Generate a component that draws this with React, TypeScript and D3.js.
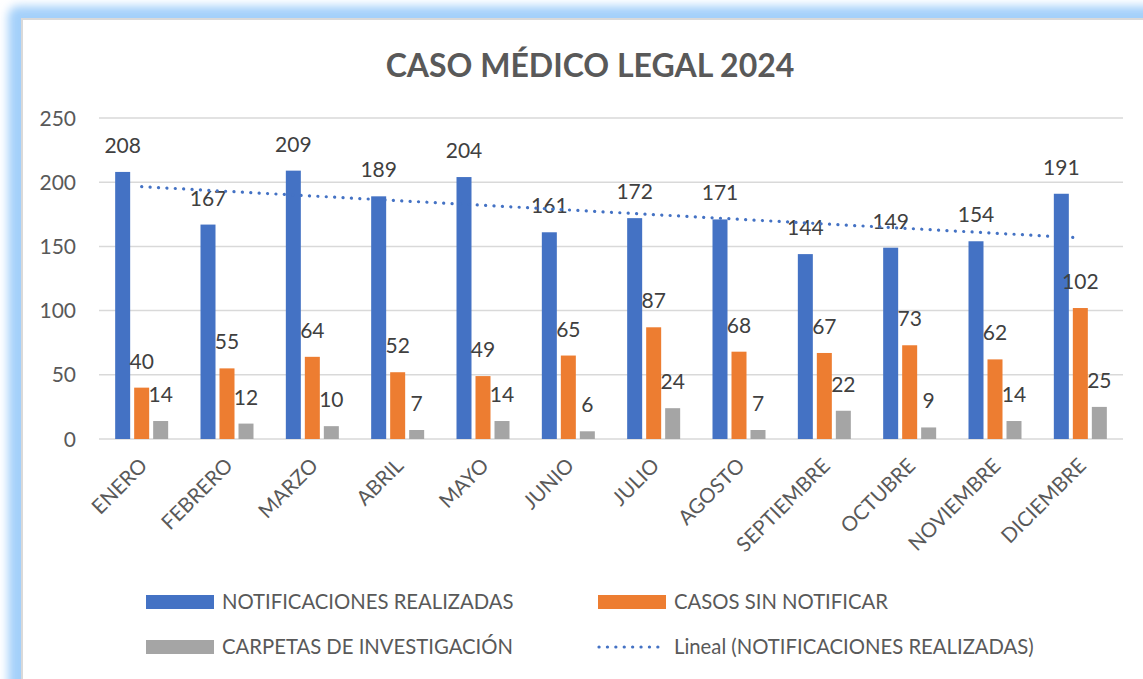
import React from "react";
import * as d3 from "d3";

const months = [
  "ENERO", "FEBRERO", "MARZO", "ABRIL", "MAYO", "JUNIO",
  "JULIO", "AGOSTO", "SEPTIEMBRE", "OCTUBRE", "NOVIEMBRE", "DICIEMBRE"
];
const notificaciones = [208, 167, 209, 189, 204, 161, 172, 171, 144, 149, 154, 191];
const sinNotificar = [40, 55, 64, 52, 49, 65, 87, 68, 67, 73, 62, 102];
const carpetas = [14, 12, 10, 7, 14, 6, 24, 7, 22, 9, 14, 25];
const yTicks = [0, 50, 100, 150, 200, 250];

const seriesNames = [
  "NOTIFICACIONES REALIZADAS",
  "CASOS SIN NOTIFICAR",
  "CARPETAS DE INVESTIGACIÓN"
];
const colors = ["#4472C4", "#ED7D31", "#A5A5A5"];

const W = 1143;
const H = 679;
const FONT = "Lato, 'Open Sans', sans-serif";

export default function App() {
  const margin = { left: 99, right: 1123, top: 118, bottom: 439 };
  const series = [notificaciones, sinNotificar, carpetas];

  const x = d3.scaleBand().domain(months).range([margin.left, margin.right]);
  const y = d3.scaleLinear().domain([0, 250]).range([margin.bottom, margin.top]);

  const barW = 15;
  const step = 19;
  const groupW = barW * 3 + (step - barW) * 2;

  // linear trendline (least squares) for first series
  const xs = notificaciones.map((_, i) => i + 1);
  const mx = d3.mean(xs) as number;
  const my = d3.mean(notificaciones) as number;
  const slope =
    d3.sum(xs.map((xi, i) => (xi - mx) * (notificaciones[i] - my))) /
    d3.sum(xs.map(xi => (xi - mx) * (xi - mx)));
  const trend = xs.map(xi => my + slope * (xi - mx));
  const trendLine = d3
    .line<number>()
    .x((_, i) => (x(months[i]) as number) + x.bandwidth() / 2)
    .y(d => y(d));

  const legend = [
    { type: "bar", label: seriesNames[0], color: colors[0], lx: 146, ly: 602 },
    { type: "bar", label: seriesNames[1], color: colors[1], lx: 598, ly: 602 },
    { type: "bar", label: seriesNames[2], color: colors[2], lx: 146, ly: 647 },
    { type: "line", label: "Lineal (NOTIFICACIONES REALIZADAS)", color: colors[0], lx: 598, ly: 647 }
  ];

  return (
    <svg
      width={W}
      height={H}
      style={{ position: "absolute", left: 0, top: 0, fontFamily: FONT }}
    >
      <defs>
        <filter id="glow" x="-10%" y="-10%" width="120%" height="120%">
          <feGaussianBlur stdDeviation="5" />
        </filter>
      </defs>
      <rect width={W} height={H} fill="#fff" />
      <rect x={8} y={6} width={W + 40} height={H + 40} rx={10} fill="#a4d0fa" filter="url(#glow)" />
      <rect x={22} y={19} width={W + 20} height={H + 20} fill="#fff" stroke="#d9d9d9" strokeWidth={2} />

      <text
        x={590}
        y={77}
        textAnchor="middle"
        fontSize={32}
        fontWeight="bold"
        fill="#595959"
      >
        CASO MÉDICO LEGAL 2024
      </text>

      {yTicks.map(t => (
        <g key={t}>
          <line x1={margin.left} x2={margin.right} y1={y(t)} y2={y(t)} stroke="#d9d9d9" strokeWidth={1.5} />
          <text x={76} y={y(t)} dy="0.36em" textAnchor="end" fontSize={21} fill="#595959">
            {t}
          </text>
        </g>
      ))}

      {months.map((m, i) => {
        const x0 = (x(m) as number) + x.bandwidth() / 2 - groupW / 2;
        return (
          <g key={m}>
            {series.map((s, k) => (
              <rect
                key={k}
                x={x0 + k * step}
                y={y(s[i])}
                width={barW}
                height={y(0) - y(s[i])}
                fill={colors[k]}
              />
            ))}
            {series.map((s, k) => (
              <text
                key={"l" + k}
                x={x0 + k * step + barW / 2}
                y={y(s[i]) - 19}
                textAnchor="middle"
                fontSize={21}
                fill="#404040"
              >
                {s[i]}
              </text>
            ))}
            <text
              transform={`translate(${(x(m) as number) + x.bandwidth() / 2 + 7},${467}) rotate(-45)`}
              textAnchor="end"
              fontSize={20.5}
              fill="#595959"
            >
              {m}
            </text>
          </g>
        );
      })}

      <path
        d={trendLine(trend) as string}
        fill="none"
        stroke={colors[0]}
        strokeWidth={3.2}
        strokeLinecap="round"
        strokeDasharray="0.1 8.3"
      />

      {legend.map(l => (
        <g key={l.label}>
          {l.type === "bar" ? (
            <rect x={l.lx} y={l.ly - 7} width={68} height={14} fill={l.color} />
          ) : (
            <line
              x1={l.lx + 1}
              x2={l.lx + 68}
              y1={l.ly}
              y2={l.ly}
              stroke={l.color}
              strokeWidth={3.2}
              strokeLinecap="round"
              strokeDasharray="0.1 8.3"
            />
          )}
          <text x={l.lx + 76} y={l.ly} dy="0.36em" fontSize={20.3} fill="#595959">
            {l.label}
          </text>
        </g>
      ))}
    </svg>
  );
}
